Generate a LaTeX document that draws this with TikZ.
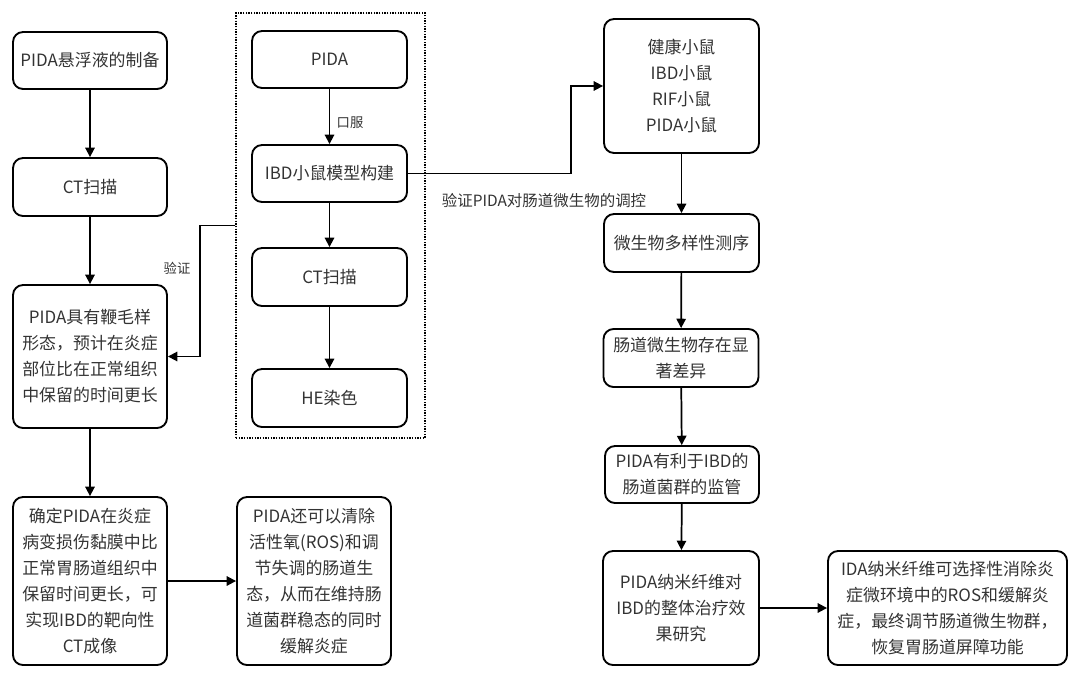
\documentclass[tikz,border=0pt]{standalone}
\usepackage{fontspec}
\setmainfont{Noto Sans CJK SC}
\usetikzlibrary{arrows.meta}
\begin{document}
\begin{tikzpicture}[x=0.75pt, y=-0.75pt,
  box/.style={draw, rounded corners=7.5pt, line width=1.4pt, align=center, inner sep=0pt,
    text=black!80, font=\fontsize{12.7}{19.5}\selectfont},
  arrow/.style={-{Triangle[length=7pt,width=7pt]}, line width=1.3pt},
  note/.style={text=black!80, font=\fontsize{10}{12}\selectfont}]
  \useasboundingbox (0,0) rectangle (1080,678);
  % left column
  \node[box, minimum width=115.5pt, minimum height=42.75pt] (prep) at (90,60.5) {PIDA悬浮液的制备};
  \node[box, minimum width=115.5pt, minimum height=43.5pt] (ct) at (90,187) {CT扫描};
  \node[box, minimum width=115.5pt, minimum height=107.25pt] (shape) at (90,356.5) {PIDA具有鞭毛样\\形态，预计在炎症\\部位比在正常组织\\中保留的时间更长};
  \node[box, minimum width=115.5pt, minimum height=126pt] (target) at (90,581) {确定PIDA在炎症\\病变损伤黏膜中比\\正常胃肠道组织中\\保留时间更长，可\\实现IBD的靶向性\\CT成像};
  \node[box, minimum width=115.5pt, minimum height=126pt] (ros) at (314,581) {PIDA还可以清除\\活性氧(ROS)和调\\节失调的肠道生\\态，从而在维持肠\\道菌群稳态的同时\\缓解炎症};
  % middle group
  \node[draw, densely dotted, line width=1pt, inner sep=0pt, minimum width=141.75pt, minimum height=318.75pt] (grp) at (330.5,225.5) {};
  \node[box, minimum width=116.25pt, minimum height=42.75pt] (pida) at (329.5,59.5) {PIDA};
  \node[box, minimum width=116.25pt, minimum height=42.75pt] (model) at (329.5,173.5) {IBD小鼠模型构建};
  \node[box, minimum width=116.25pt, minimum height=43.5pt] (ct2) at (329.5,277) {CT扫描};
  \node[box, minimum width=116.25pt, minimum height=43.5pt] (he) at (329.5,398) {HE染色};
  % right column
  \node[box, minimum width=116.25pt, minimum height=100.5pt] (mice) at (681.5,86) {健康小鼠\\IBD小鼠\\RIF小鼠\\PIDA小鼠};
  \node[box, minimum width=116.25pt, minimum height=43.5pt] (seq) at (681.5,243) {微生物多样性测序};
  \node[box, minimum width=116.25pt, minimum height=43.5pt] (diff) at (681,358) {肠道微生物存在显\\著差异};
  \node[box, minimum width=115.5pt, minimum height=42.75pt] (flora) at (682,474.5) {PIDA有利于IBD的\\肠道菌群的监管};
  \node[box, minimum width=117pt, minimum height=85.5pt] (fiber) at (681,608) {PIDA纳米纤维对\\IBD的整体治疗效\\果研究};
  \node[box, minimum width=179.25pt, minimum height=85.5pt] (final) at (947.5,608) {IDA纳米纤维可选择性消除炎\\症微环境中的ROS和缓解炎\\症，最终调节肠道微生物群，\\恢复胃肠道屏障功能};
  % labels
  \node[note] (oral) at (350,123) {口服};
  \node[note] (check) at (177,268) {验证};
  \node[note, font=\fontsize{11.6}{14}\selectfont] (micro) at (544,201) {验证PIDA对肠道微生物的调控};
  % connectors
  \draw[arrow] (prep) -- (ct);
  \draw[arrow] (ct) -- (shape);
  \draw[arrow] (shape) -- (target);
  \draw[arrow] (target) -- (ros);
  \draw[arrow] (pida) -- (model);
  \draw[arrow] (model) -- (ct2);
  \draw[arrow] (ct2) -- (he);
  \draw[arrow] (grp.west) -- ++(-35,0) |- (shape.east);
  \draw[arrow] (model.east) -- ++(163,0) |- (mice.west);
  \draw[arrow] (mice) -- (seq);
  \draw[arrow] (seq) -- (diff);
  \draw[arrow] (diff) -- (flora);
  \draw[arrow] (flora) -- (fiber);
  \draw[arrow] (fiber) -- (final);
\end{tikzpicture}
\end{document}
